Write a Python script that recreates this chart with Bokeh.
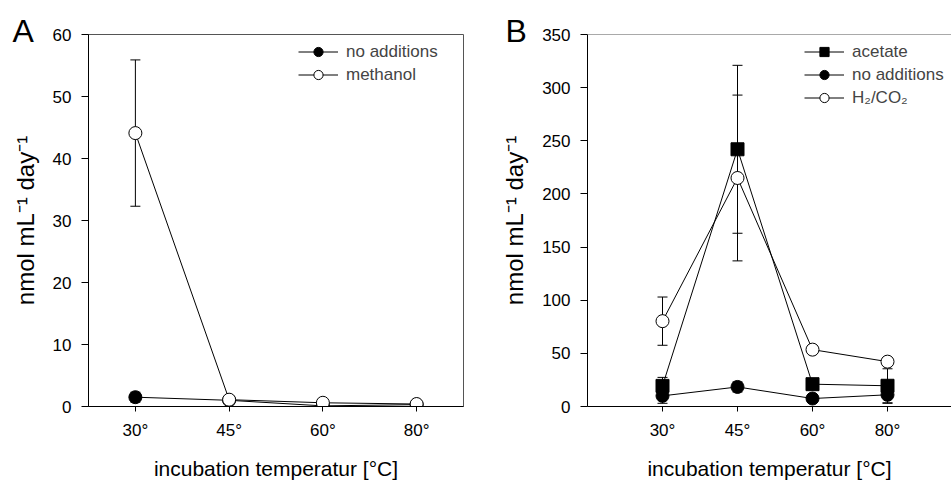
from bokeh.plotting import figure
from bokeh.models import (Range1d, FixedTicker, Whisker, TeeHead, ColumnDataSource,
                          Legend, LegendItem, Title, Span)
from bokeh.layouts import row
from bokeh.embed import file_html
from bokeh.resources import INLINE

FONT = "Liberation Sans"

# ---------------- data ----------------
temps = ["30°", "45°", "60°", "80°"]

a_noadd = [1.5, 1.0, 0.1, 0.3]
a_noadd_err = [0.8, 0.5, 0.1, 0.3]
a_meth = [44.1, 1.1, 0.6, 0.4]
a_meth_err = [11.8, 0.6, 0.4, 0.4]
a_yticks = [0, 10, 20, 30, 40, 50, 60]

b_acet = [19.4, 242, 21, 19.5]
b_acet_err = [8, 79, 5, 16]
b_noadd = [10, 18.4, 7.5, 11]
b_noadd_err = [7, 4.7, 3, 8]
b_h2 = [80.3, 215, 53.5, 42.2]
b_h2_err = [22.7, 78, 2, 3]
b_yticks = [0, 50, 100, 150, 200, 250, 300, 350]

xpos = [i + 1 for i in range(len(temps))]
YLABEL = "nmol mL\u207b\u00b9 day\u207b\u00b9"
XLABEL = "incubation temperatur [°C]"


def make_fig(width, bl, br, xr, ymax, yticks):
    p = figure(width=width, height=482, output_backend="svg", toolbar_location=None,
               x_range=Range1d(*xr), y_range=Range1d(0, ymax),
               min_border_left=bl, min_border_right=br, min_border_top=34, min_border_bottom=74)
    p.xgrid.visible = False
    p.ygrid.visible = False
    p.background_fill_color = "white"
    p.border_fill_color = "white"
    p.xaxis.ticker = FixedTicker(ticks=xpos)
    p.xaxis.major_label_overrides = {x: t for x, t in zip(xpos, temps)}
    p.yaxis.ticker = FixedTicker(ticks=yticks)
    for ax in (p.xaxis, p.yaxis):
        ax.minor_tick_line_color = None
        ax.major_tick_in = 0
        ax.axis_line_color = "black"
        ax.major_tick_line_color = "black"
        ax.major_label_text_font = FONT
        ax.major_label_text_font_size = "17px"
        ax.major_label_text_color = "black"
        ax.axis_label_text_font = FONT
        ax.axis_label_text_font_size = "21px"
        ax.axis_label_text_font_style = "normal"
        ax.axis_label_text_color = "black"
    p.yaxis.axis_label_text_font_size = "24px"
    p.xaxis.major_tick_out = 5
    p.xaxis.major_label_standoff = 9
    p.xaxis.axis_label_standoff = 14
    p.yaxis.major_tick_out = 7
    p.yaxis.major_label_standoff = 10
    p.yaxis.axis_label_standoff = 11
    p.xaxis.axis_label = XLABEL
    p.yaxis.axis_label = YLABEL
    return p


def series(p, ys, errs, marker, fill):
    src = ColumnDataSource(dict(
        x=xpos, y=ys,
        lo=[y - e for y, e in zip(ys, errs)],
        hi=[y + e for y, e in zip(ys, errs)]))
    w = Whisker(source=src, base="x", upper="hi", lower="lo",
                line_color="black", line_width=1,
                upper_head=TeeHead(size=10, line_color="black", line_width=1),
                lower_head=TeeHead(size=10, line_color="black", line_width=1))
    p.add_layout(w)
    l = p.line("x", "y", source=src, line_color="black", line_width=1)
    s = p.scatter("x", "y", source=src, marker=marker, size=13,
                  fill_color=fill, line_color="black", line_width=1)
    return [l, s]


def add_legend(p, items, loc):
    leg = Legend(items=[LegendItem(label=lab, renderers=r) for lab, r in items],
                 location=loc, margin=0, padding=0, spacing=0,
                 glyph_width=40, glyph_height=23, label_height=23, label_standoff=8,
                 label_text_font=FONT, label_text_font_size="17px",
                 border_line_color=None, background_fill_alpha=0)
    p.add_layout(leg)


def panel_letter(p, letter, offset):
    p.add_layout(Title(text=letter, align="left", offset=offset, standoff=-29,
                       vertical_align="bottom", text_font=FONT, text_font_size="32px",
                       text_font_style="normal", text_color="black"), "above")


# ---------------- panel A ----------------
pa = make_fig(480, 88, 17, (0.5, 4.5), 60, a_yticks)
pa.outline_line_color = "#555555"
ra1 = series(pa, a_noadd, a_noadd_err, "circle", "black")
ra2 = series(pa, a_meth, a_meth_err, "circle", "white")
add_legend(pa, [("no additions", ra1), ("methanol", ra2)], (210, 320))
panel_letter(pa, "A", -76)

# ---------------- panel B ----------------
pb = make_fig(471, 107, 0, (0, 364 / 75), 350, b_yticks)
pb.outline_line_color = None
pb.outline_line_width = 0
pb.background_fill_color = None
pb.add_layout(Span(location=350, dimension="width", line_color="#555555", line_width=1))
rb1 = series(pb, b_acet, b_acet_err, "square", "black")
rb2 = series(pb, b_noadd, b_noadd_err, "circle", "black")
rb3 = series(pb, b_h2, b_h2_err, "circle", "white")
add_legend(pb, [("acetate", rb1), ("no additions", rb2), ("H\u2082/CO\u2082", rb3)], (217, 297))
panel_letter(pb, "B", -82)

layout = row(pa, pb)
open("out.html", "w").write(file_html(layout, INLINE))
